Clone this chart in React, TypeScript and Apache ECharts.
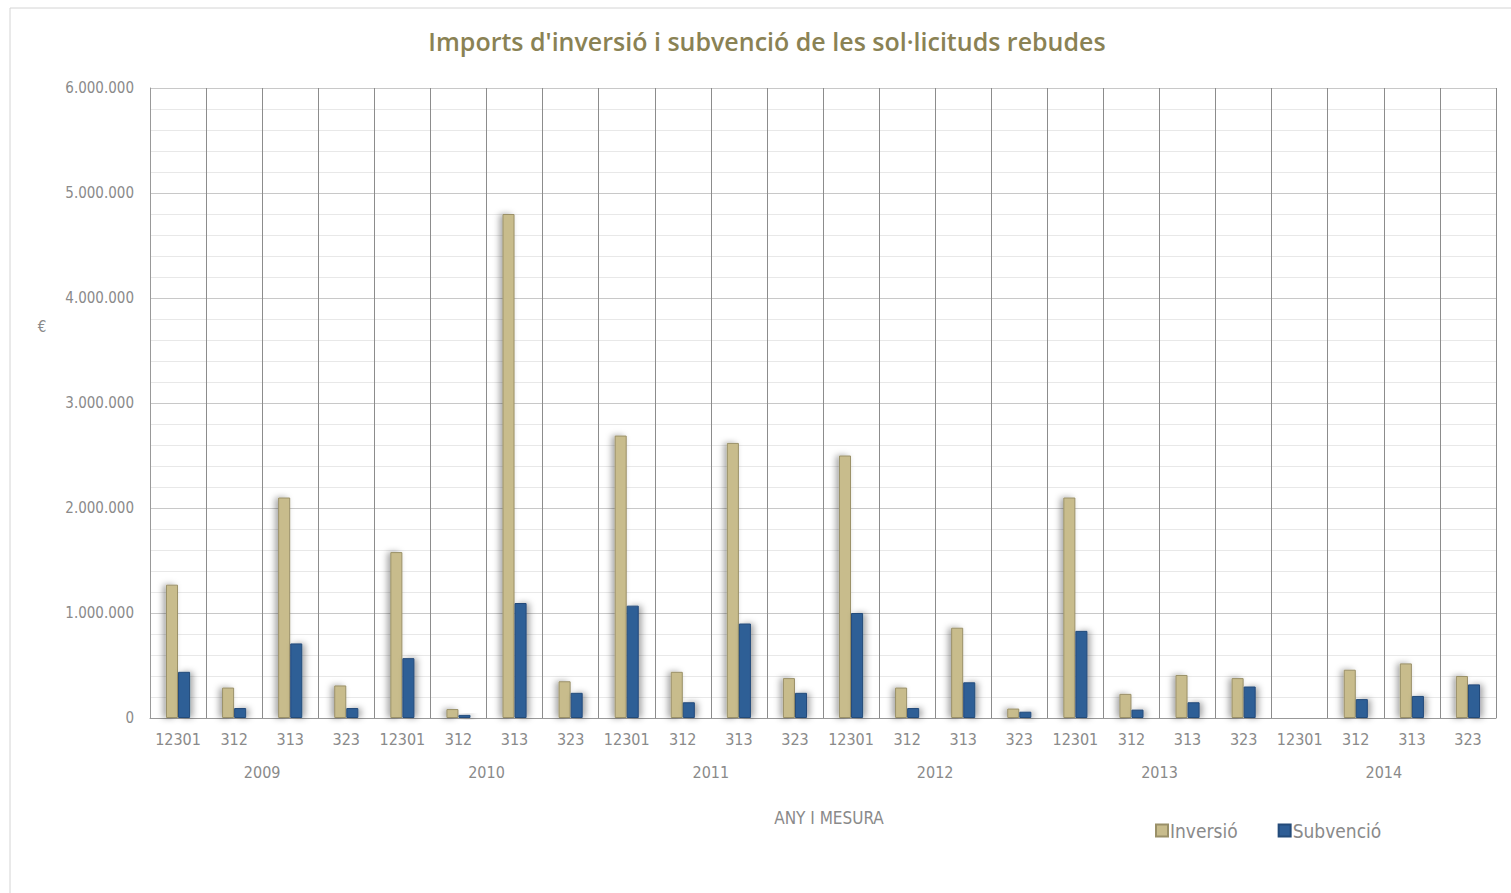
import React, { useEffect, useRef } from "react";
import * as echarts from "echarts";

const years = ["2009", "2010", "2011", "2012", "2013", "2014"];
const measures = ["12301", "312", "313", "323"];
const categories = [
  "12301", "312", "313", "323",
  "12301", "312", "313", "323",
  "12301", "312", "313", "323",
  "12301", "312", "313", "323",
  "12301", "312", "313", "323",
  "12301", "312", "313", "323",
];
const inversio = [
  1270000, 290000, 2100000, 310000,
  1580000, 85000, 4800000, 350000,
  2690000, 440000, 2620000, 380000,
  2500000, 290000, 860000, 90000,
  2100000, 230000, 410000, 380000,
  0, 460000, 520000, 400000,
];
const subvencio = [
  440000, 95000, 710000, 95000,
  570000, 30000, 1095000, 240000,
  1070000, 150000, 900000, 240000,
  1000000, 95000, 340000, 60000,
  830000, 80000, 150000, 300000,
  0, 180000, 210000, 320000,
];
const yTicks = [0, 1000000, 2000000, 3000000, 4000000, 5000000, 6000000];

const fmt = (v: number) =>
  v === 0 ? "0" : String(v).replace(/\B(?=(\d{3})+(?!\d))/g, ".");

const FONT = "'DejaVu Sans Condensed', 'DejaVu Sans', sans-serif";
const LABEL = "#8a8a8a";

export default function App() {
  const ref = useRef<HTMLDivElement>(null);
  useEffect(() => {
    if (!ref.current) return;
    const chart = echarts.init(ref.current, undefined, { renderer: "svg" });
    chart.setOption({
      animation: false,
      backgroundColor: "#ffffff",
      title: {
        text: "Imports d'inversió i subvenció de les sol·licituds rebudes",
        left: 762,
        textAlign: "center",
        top: 23,
        textStyle: {
          color: "#8a8254",
          fontSize: 25,
          fontWeight: 600,
          fontFamily: "'Open Sans', sans-serif",
        },
      },
      graphic: [
        {
          type: "rect",
          shape: { x: 10, y: 8, width: 1520, height: 900 },
          style: { fill: "none", stroke: "#d4d4d4", lineWidth: 1 },
          silent: true,
        },
        {
          type: "text",
          x: 42,
          y: 327,
          style: {
            text: "€",
            fill: LABEL,
            fontSize: 15,
            fontFamily: FONT,
            align: "center",
            verticalAlign: "middle",
          },
        },
        {
          type: "text",
          x: 829,
          y: 818,
          style: {
            text: "ANY I MESURA",
            fill: LABEL,
            fontSize: 17,
            fontFamily: FONT,
            align: "center",
            verticalAlign: "middle",
          },
        },
      ],
      legend: {
        left: 1150,
        top: 816,
        itemWidth: 12,
        itemHeight: 12,
        itemGap: 40,
        icon: "rect",
        textStyle: { color: LABEL, fontSize: 19, fontFamily: FONT, padding: [0, 0, 0, -3] },
        data: ["Inversió", "Subvenció"],
      },
      grid: { left: 150, right: 15, top: 88, bottom: 175, containLabel: false },
      xAxis: [
        {
          type: "category",
          data: categories,
          axisLine: { show: true, lineStyle: { color: "#999" } },
          axisTick: { show: false },
          axisLabel: { color: LABEL, fontSize: 16, fontFamily: FONT, margin: 13, interval: 0 },
          splitLine: { show: true, lineStyle: { color: "#8c8c8c", width: 1 } },
        },
        {
          type: "category",
          data: years,
          position: "bottom",
          offset: 33,
          axisLine: { show: false },
          axisTick: { show: false },
          axisLabel: { color: LABEL, fontSize: 16, fontFamily: FONT, margin: 13 },
          splitLine: { show: false },
        },
      ],
      yAxis: {
        type: "value",
        min: 0,
        max: 6000000,
        interval: 1000000,
        axisLine: { show: true, lineStyle: { color: "#999" } },
        axisTick: { show: false },
        axisLabel: {
          color: LABEL,
          fontSize: 15,
          fontFamily: FONT,
          margin: 16,
          formatter: (v: number) => fmt(v),
        },
        splitLine: { show: true, lineStyle: { color: "#c8c8c8", width: 1 } },
        minorTick: { show: false, splitNumber: 5 },
        minorSplitLine: { show: true, lineStyle: { color: "#e8e8e8", width: 1 } },
      },
      series: [
        {
          name: "Inversió",
          type: "bar",
          data: inversio,
          barGap: "0%",
          barCategoryGap: "57%",
          itemStyle: {
            color: "#c8bc8c",
            borderColor: "#9a9068",
            borderWidth: 1,
            shadowColor: "rgba(0,0,0,0.35)",
            shadowBlur: 6,
            shadowOffsetX: -3,
          },
        },
        {
          name: "Subvenció",
          type: "bar",
          data: subvencio,
          itemStyle: {
            color: "#2f5e96",
            borderColor: "#244b7a",
            borderWidth: 1,
            shadowColor: "rgba(0,0,0,0.35)",
            shadowBlur: 6,
            shadowOffsetX: 3,
          },
        },
      ],
    });
    return () => chart.dispose();
  }, []);
  return (
    <div
      ref={ref}
      style={{ position: "fixed", left: 0, top: 0, width: 1511, height: 893 }}
    />
  );
}
